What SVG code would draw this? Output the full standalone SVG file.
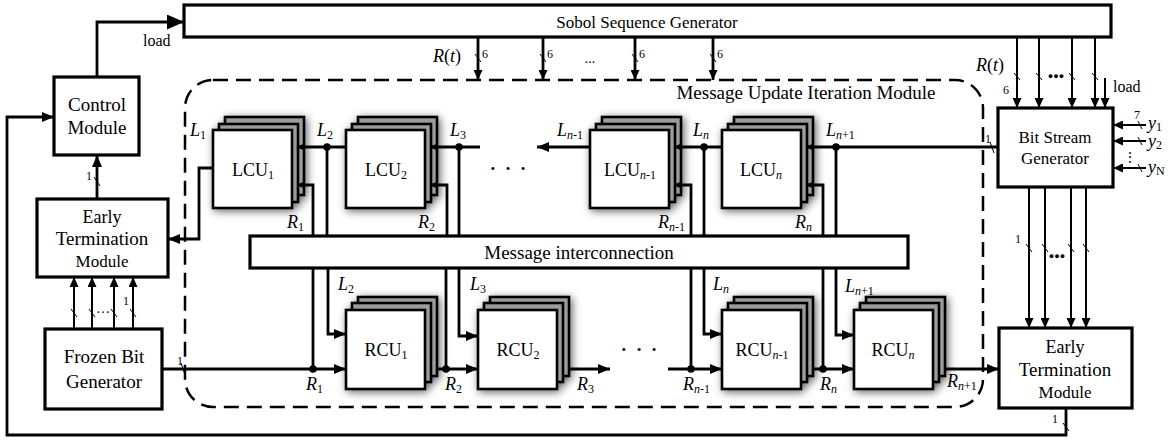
<svg xmlns="http://www.w3.org/2000/svg" width="1175" height="441" viewBox="0 0 1175 441" font-family="'Liberation Serif', 'DejaVu Serif', serif">
<style>
text{font-family:'Liberation Serif','DejaVu Serif',serif;fill:#000}
.box{fill:#fff;stroke:#000;stroke-width:3.2}
.bk{fill:#9c9c9c;stroke:#000;stroke-width:2.6}
.fr{fill:#fff;stroke:#000;stroke-width:2.6}
.ln{fill:none;stroke:#000;stroke-width:2.8}
.th{fill:none;stroke:#000;stroke-width:2}
.tk{fill:none;stroke:#000;stroke-width:1}
.dash{fill:none;stroke:#000;stroke-width:2.5;stroke-dasharray:15 8}
.lbl{font-size:19px;text-anchor:middle}
.cu{font-size:18px;text-anchor:middle}
.it{font-style:italic;font-size:18px}
.sub{font-size:12px;font-style:normal}
.sn{font-size:12px;font-style:italic}
.num{font-size:12px}
</style>
<defs>
<marker id="a" viewBox="0 0 12 10" refX="12" refY="5" markerWidth="12" markerHeight="10" orient="auto" markerUnits="userSpaceOnUse"><path d="M0,0L12,5L0,10z"/></marker>
<marker id="b" viewBox="0 0 17 15" refX="17" refY="7.5" markerWidth="17" markerHeight="15" orient="auto" markerUnits="userSpaceOnUse"><path d="M0,0L17,7.5L0,15z"/></marker>
<marker id="m" viewBox="0 0 10 9" refX="10" refY="4.5" markerWidth="10" markerHeight="9" orient="auto" markerUnits="userSpaceOnUse"><path d="M0,0L10,4.5L0,9z"/></marker>
<marker id="s" viewBox="0 0 8 8" refX="8" refY="4" markerWidth="8" markerHeight="8" orient="auto" markerUnits="userSpaceOnUse"><path d="M0,0L8,4L0,8z"/></marker>
<filter id="sh" x="-25%" y="-25%" width="160%" height="160%"><feDropShadow dx="2" dy="2" stdDeviation="4" flood-color="#000" flood-opacity="0.6"/></filter>
<g id="stk">
<rect x="12" y="-13" width="79" height="78" class="bk"/>
<rect x="6" y="-6" width="79" height="78" class="bk"/>
<rect x="0" y="0" width="79" height="78" class="fr"/>
</g>
<g id="stkr">
<rect x="12" y="-13" width="79" height="79" class="bk"/>
<rect x="6" y="-7" width="79" height="79" class="bk"/>
<rect x="0" y="0" width="79" height="79" class="fr"/>
</g>
</defs>
<rect width="1175" height="441" fill="#fff"/>

<g id="miu">
<rect x="185" y="80" width="798" height="327" rx="28" class="dash"/>
<text x="806" y="99" class="lbl">Message Update Iteration Module</text>
</g>

<g id="sobol">
<rect x="184" y="5" width="927" height="32" class="box"/>
<text x="647" y="28" font-size="17" text-anchor="middle">Sobol Sequence Generator</text>
</g>

<g id="control">
<rect x="54" y="77" width="85" height="78" class="box"/>
<text x="97" y="111" class="lbl">Control</text>
<text x="97" y="134" class="lbl">Module</text>
</g>

<g id="et-left">
<rect x="37" y="199" width="131" height="78" class="box"/>
<text x="102" y="223" class="cu">Early</text>
<text x="102" y="245" class="lbl">Termination</text>
<text x="102" y="267" font-size="17" text-anchor="middle">Module</text>
</g>

<g id="fbg">
<rect x="45" y="329" width="117" height="80" class="box"/>
<text x="104" y="363" class="lbl">Frozen Bit</text>
<text x="104" y="388" class="lbl">Generator</text>
</g>

<g id="bsg">
<rect x="998" y="108" width="115" height="79" class="box"/>
<text x="1055" y="143" font-size="17" text-anchor="middle">Bit Stream</text>
<text x="1055" y="164" font-size="17" text-anchor="middle">Generator</text>
</g>

<g id="et-right">
<rect x="999" y="328" width="133" height="80" class="box"/>
<text x="1065" y="353" class="cu">Early</text>
<text x="1065" y="376" class="lbl">Termination</text>
<text x="1065" y="398" font-size="17" text-anchor="middle">Module</text>
</g>

<g id="mic">
<rect x="250" y="236" width="658" height="32" class="box"/>
<text x="579" y="259" class="lbl">Message interconnection</text>
</g>

<g id="lcu1"><use href="#stk" x="213" y="130" filter="url(#sh)"/><text x="253" y="176" class="cu">LCU<tspan class="sub" dy="3">1</tspan></text></g>
<g id="lcu2"><use href="#stk" x="346" y="130" filter="url(#sh)"/><text x="386" y="176" class="cu">LCU<tspan class="sub" dy="3">2</tspan></text></g>
<g id="lcun1"><use href="#stk" x="590" y="130" filter="url(#sh)"/><text x="630" y="176" class="cu">LCU<tspan class="sn" dy="3">n</tspan><tspan class="sub" font-size="10">-1</tspan></text></g>
<g id="lcun"><use href="#stk" x="722" y="130" filter="url(#sh)"/><text x="761" y="176" class="cu">LCU<tspan class="sn" dy="3">n</tspan></text></g>

<g id="rcu1"><use href="#stkr" x="346" y="310" filter="url(#sh)"/><text x="386" y="356" class="cu">RCU<tspan class="sub" dy="3">1</tspan></text></g>
<g id="rcu2"><use href="#stkr" x="478" y="310" filter="url(#sh)"/><text x="518" y="356" class="cu">RCU<tspan class="sub" dy="3">2</tspan></text></g>
<g id="rcun1"><use href="#stkr" x="722" y="310" filter="url(#sh)"/><text x="762" y="356" class="cu">RCU<tspan class="sn" dy="3">n</tspan><tspan class="sub" font-size="10">-1</tspan></text></g>
<g id="rcun"><use href="#stkr" x="854" y="310" filter="url(#sh)"/><text x="893" y="356" class="cu">RCU<tspan class="sn" dy="3">n</tspan></text></g>

<g id="connectors">
<path class="ln" d="M97,77V22H184" marker-end="url(#b)"/>
<path class="ln" d="M1066,408V435H7V117H54" marker-end="url(#a)"/>
<path class="ln" d="M97,199V155" marker-end="url(#a)"/>
<path class="ln" d="M213,168H199V239H168" marker-end="url(#a)"/>
<path class="th" d="M74,329V277" marker-end="url(#m)"/>
<path class="th" d="M92,329V277" marker-end="url(#m)"/>
<path class="th" d="M114,329V277" marker-end="url(#m)"/>
<path class="th" d="M133,329V277" marker-end="url(#m)"/>
<path class="ln" d="M162,369H346" marker-end="url(#a)"/>
<path class="ln" d="M478,37V80" marker-end="url(#m)"/>
<path class="ln" d="M543,37V80" marker-end="url(#m)"/>
<path class="ln" d="M635,37V80" marker-end="url(#m)"/>
<path class="ln" d="M713,37V80" marker-end="url(#m)"/>
<path class="th" d="M1017,37V108" marker-end="url(#m)"/>
<path class="th" d="M1039,37V108" marker-end="url(#m)"/>
<path class="th" d="M1072,37V108" marker-end="url(#m)"/>
<path class="th" d="M1095,37V108" marker-end="url(#m)"/>
<path class="th" d="M1105,78V108" marker-end="url(#m)"/>
<path class="th" d="M1146,125H1113" marker-end="url(#m)"/>
<path class="th" d="M1146,141H1113" marker-end="url(#m)"/>
<path class="th" d="M1146,168H1113" marker-end="url(#m)"/>
<path class="th" d="M1029,187V328" marker-end="url(#m)"/>
<path class="th" d="M1045,187V328" marker-end="url(#m)"/>
<path class="th" d="M1071,187V328" marker-end="url(#m)"/>
<path class="th" d="M1086,187V328" marker-end="url(#m)"/>

<path class="ln" d="M998,147H806" marker-end="url(#s)"/>
<path class="ln" d="M836,147V236"/>
<path class="ln" d="M823,236V185H806" marker-end="url(#s)"/>
<path class="ln" d="M722,147H674" marker-end="url(#s)"/>
<path class="ln" d="M704,147V236"/>
<path class="ln" d="M691,236V185H674" marker-end="url(#s)"/>
<path class="ln" d="M590,147H537" marker-end="url(#a)"/>
<path class="ln" d="M480,147H430" marker-end="url(#s)"/>
<path class="ln" d="M459,147V236"/>
<path class="ln" d="M447,236V185H430" marker-end="url(#s)"/>
<path class="ln" d="M346,147H297" marker-end="url(#s)"/>
<path class="ln" d="M327,147V236"/>
<path class="ln" d="M313,236V185H297" marker-end="url(#s)"/>

<path class="ln" d="M313,268V369"/>
<path class="ln" d="M328,268V334H346" marker-end="url(#a)"/>
<path class="ln" d="M446,268V369"/>
<path class="ln" d="M459,268V336H478" marker-end="url(#a)"/>
<path class="ln" d="M691,268V369"/>
<path class="ln" d="M704,268V334H722" marker-end="url(#a)"/>
<path class="ln" d="M823,268V369"/>
<path class="ln" d="M836,268V335H854" marker-end="url(#a)"/>
<path class="ln" d="M437,369H478" marker-end="url(#a)"/>
<path class="ln" d="M569,369H610" marker-end="url(#a)"/>
<path class="ln" d="M668,369H722" marker-end="url(#a)"/>
<path class="ln" d="M813,369H854" marker-end="url(#a)"/>
<path class="ln" d="M945,369H999" marker-end="url(#a)"/>

<g fill="#000">
<circle cx="327" cy="147" r="3.8"/><circle cx="459" cy="147" r="3.8"/><circle cx="704" cy="147" r="3.8"/><circle cx="836" cy="147" r="3.8"/>
<circle cx="313" cy="369" r="3.8"/><circle cx="446" cy="369" r="3.8"/><circle cx="691" cy="369" r="3.8"/><circle cx="823" cy="369" r="3.8"/>
</g>

<path class="tk" d="M475,54L481,62M540,54L546,62M632,54L638,62M710,54L716,62M1014,73L1020,80M1036,73L1042,80M1069,73L1075,80M1092,73L1098,80M1138,121L1142,129M1138,137L1142,145M1138,164L1142,172M1026,244L1032,252M1042,244L1048,252M1068,244L1074,252M1083,244L1089,252M71,309L77,317M89,309L95,317M111,309L117,317M130,309L136,317M181,363L185,375M990,142L994,153M94,177L100,186M1063,423L1069,431"/>

<text x="482" y="58" class="num">6</text>
<text x="547" y="58" class="num">6</text>
<text x="639" y="58" class="num">6</text>
<text x="717" y="58" class="num">6</text>
<text x="1003" y="94" class="num">6</text>
<text x="1134" y="119" class="num">7</text>
<text x="1015" y="243" class="num">1</text>
<text x="123" y="305" class="num">1</text>
<text x="177" y="365" class="num">1</text>
<text x="985" y="143" class="num">1</text>
<text x="86" y="180" class="num">1</text>
<text x="1052" y="423" class="num">1</text>

<text x="590" y="63" font-size="14" text-anchor="middle">...</text>
<text x="1056" y="79" font-size="9" text-anchor="middle" font-weight="bold">●●●</text>
<text x="1057" y="259" font-size="9" text-anchor="middle" font-weight="bold">●●●</text>
<text x="103" y="313" font-size="14" text-anchor="middle">…</text>
<text x="1130" y="162" font-size="14" text-anchor="middle">⋮</text>
<text x="508" y="177" font-size="26" text-anchor="middle">· · ·</text>
<text x="639" y="358" font-size="26" text-anchor="middle">· · ·</text>

<text x="143" y="46" font-size="16">load</text>
<text x="1113" y="92" font-size="16">load</text>
<text x="433" y="62" font-size="18"><tspan font-style="italic">R</tspan>(<tspan font-style="italic">t</tspan>)</text>
<text x="976" y="71" font-size="18"><tspan font-style="italic">R</tspan>(<tspan font-style="italic">t</tspan>)</text>

<text x="1148" y="129" class="it">y<tspan class="sub" dy="2">1</tspan></text>
<text x="1148" y="147" class="it">y<tspan class="sub" dy="2">2</tspan></text>
<text x="1148" y="173" class="it">y<tspan class="sub" font-size="10" dy="2">N</tspan></text>

<text x="190" y="136" class="it">L<tspan class="sub" dy="3">1</tspan></text>
<text x="317" y="136" class="it">L<tspan class="sub" dy="3">2</tspan></text>
<text x="450" y="136" class="it">L<tspan class="sub" dy="3">3</tspan></text>
<text x="557" y="136" class="it">L<tspan class="sn" dy="3">n</tspan><tspan class="sub" font-size="10">-1</tspan></text>
<text x="693" y="136" class="it">L<tspan class="sn" dy="3">n</tspan></text>
<text x="826" y="136" class="it">L<tspan class="sn" dy="3">n</tspan><tspan class="sub" font-size="10">+1</tspan></text>

<text x="287" y="228" class="it">R<tspan class="sub" dy="3">1</tspan></text>
<text x="418" y="228" class="it">R<tspan class="sub" dy="3">2</tspan></text>
<text x="658" y="228" class="it">R<tspan class="sn" dy="3">n</tspan><tspan class="sub" font-size="10">-1</tspan></text>
<text x="795" y="228" class="it">R<tspan class="sn" dy="3">n</tspan></text>

<text x="338" y="290" class="it">L<tspan class="sub" dy="3">2</tspan></text>
<text x="470" y="290" class="it">L<tspan class="sub" dy="3">3</tspan></text>
<text x="713" y="290" class="it">L<tspan class="sn" dy="3">n</tspan></text>
<text x="845" y="292" class="it">L<tspan class="sn" dy="3">n</tspan><tspan class="sub" font-size="10">+1</tspan></text>

<text x="306" y="390" class="it">R<tspan class="sub" dy="3">1</tspan></text>
<text x="445" y="390" class="it">R<tspan class="sub" dy="3">2</tspan></text>
<text x="577" y="390" class="it">R<tspan class="sub" dy="3">3</tspan></text>
<text x="683" y="390" class="it">R<tspan class="sn" dy="3">n</tspan><tspan class="sub" font-size="10">-1</tspan></text>
<text x="820" y="390" class="it">R<tspan class="sn" dy="3">n</tspan></text>
<text x="947" y="387" class="it">R<tspan class="sn" dy="3">n</tspan><tspan class="sub" font-size="10">+1</tspan></text>
</g>
</svg>
